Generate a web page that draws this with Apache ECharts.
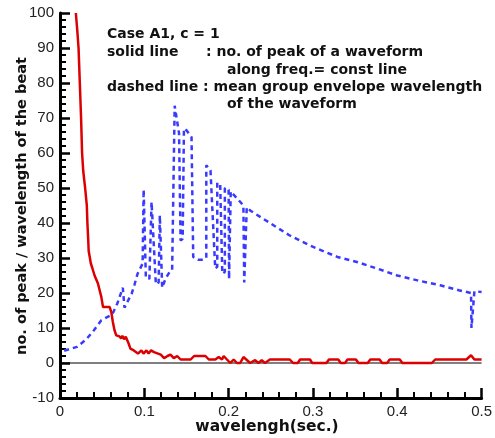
<!DOCTYPE html>
<html><head><meta charset="utf-8">
<script src="https://cdn.jsdelivr.net/npm/echarts@6/dist/echarts.min.js"></script>
<style>html,body{margin:0;padding:0;background:#fff}#c{width:495px;height:438px}</style>
</head><body><div id="c"></div>
<script>
// x ticks / y ticks
var xTicks = [0, 0.1, 0.2, 0.3, 0.4, 0.5];
var yTicks = [-10, 0, 10, 20, 30, 40, 50, 60, 70, 80, 90, 100];

// solid line: no. of peak of a waveform along freq.=const line  [wavelength, value]
var solidX = [0.0188,0.0205,0.022,0.0235,0.025,0.0262,0.0275,0.0298,0.0318,0.0325,0.0335,0.034,0.0355,0.0365,0.038,0.0385,0.041,0.045,0.049,0.051,0.0588,0.0608,0.0627,0.0647,0.0667,0.0706,0.0725,0.074,0.076,0.078,0.08,0.0815,0.0835,0.0875,0.0925,0.0965,0.099,0.1025,0.105,0.108,0.1115,0.1135,0.1195,0.1235,0.1275,0.131,0.135,0.139,0.143,0.155,0.159,0.1725,0.1765,0.1843,0.1882,0.1922,0.1941,0.198,0.202,0.206,0.2098,0.2137,0.2176,0.2255,0.2314,0.2353,0.2392,0.2431,0.249,0.2725,0.2765,0.282,0.2847,0.2965,0.299,0.316,0.319,0.330,0.333,0.338,0.341,0.351,0.354,0.365,0.368,0.379,0.382,0.388,0.391,0.403,0.406,0.441,0.445,0.482,0.4875,0.4915,0.5];
var solidY = [100,95,90,80,70,60,55,50,45,40,35,32,30,28.5,28.5,27,25,22.7,18.9,16,16,14.6,11.7,9.3,7.9,7.6,7,7.8,6.8,7.5,7,5.5,4.1,3.6,2.7,3.6,2.7,3.6,2.7,3.6,3.1,3.1,2.4,1.4,2,2.4,1.4,2,1,1,2,2,1,1,1.7,1,2,1,0,1,0,0,1.7,0,0.8,0,0.8,0,1,1,0,0,1,1,0,0,1,1,0,0,1,1,0,0,1,1,0,0,1,1,0,0,1,1,2.2,1,1];

// dashed line: mean group envelope wavelength of the waveform
var dashedX = [0.005,0.02,0.031,0.04,0.049,0.062,0.068,0.0745,0.0765,0.08,0.085,0.0885,0.092,0.098,0.0992,0.1018,0.106,0.1086,0.1137,0.117,0.1184,0.1212,0.125,0.13,0.133,0.136,0.1412,0.143,0.1455,0.147,0.150,0.156,0.158,0.1635,0.168,0.1735,0.1735,0.1785,0.1841,0.1865,0.1865,0.19,0.1925,0.1955,0.1955,0.2,0.2005,0.2025,0.2025,0.212,0.2175,0.2185,0.2205,0.2215,0.226,0.247,0.272,0.296,0.31,0.329,0.353,0.376,0.4,0.424,0.451,0.473,0.4875,0.488,0.4915,0.5];
var dashedY = [3.5,4.6,6.7,9.3,12.2,13.9,17,21.5,15.8,17.5,19.8,22.5,25.5,28.4,49.6,24.5,24,46,22.5,23,42.2,21.5,24,26,26.5,73.5,65.6,35,35.5,67,66.5,64.5,30.3,29.5,29.5,30,56.5,55,27,27.5,51.5,51,25.5,26,50,49.5,24,24.5,49,46.5,45,23,23.5,44.5,43.5,40.3,36.5,33.6,32.2,30.3,28.8,27,25,23.6,22.2,20.8,20,10,20.5,20.3];

var zeroX = [0, 0.5];
var zeroY = [0, 0];

function pairs(xs, ys){ return xs.map(function(x,i){return [x, ys[i]];}); }

var FONT = '"Liberation Sans", Arial, sans-serif';
var BFONT = '"DejaVu Sans", Verdana, sans-serif';
var chart = echarts.init(document.getElementById('c'), null, {renderer:'canvas'});
var tickLabelStyle = {color:'#222', fontSize:15, fontFamily:FONT};
var annot = [
  {x:107, y:34, t:'Case A1, c = 1'},
  {x:107, y:52, t:'solid line'},
  {x:206, y:52, t:': no. of peak of a waveform'},
  {x:227, y:70, t:'along freq.= const line'},
  {x:107, y:87, t:'dashed line : mean group envelope wavelength'},
  {x:227, y:104, t:'of the waveform'}
];
var graphics = annot.map(function(a){
  return {type:'text', x:a.x, y:a.y, z:100,
    style:{text:a.t, font:'bold 14px ' + BFONT, fill:'#111', textAlign:'left', textVerticalAlign:'middle'}};
});
graphics.push({type:'text', x:267, y:427, z:100,
  style:{text:'wavelengh(sec.)', font:'bold 15.5px ' + BFONT, fill:'#111', textAlign:'center', textVerticalAlign:'middle'}});
graphics.push({type:'text', x:22, y:206, rotation:Math.PI/2, z:100,
  style:{text:'no. of peak / wavelength of the beat', font:'bold 14.5px ' + BFONT, fill:'#111', textAlign:'center', textVerticalAlign:'middle'}});

chart.setOption({
  animation:false,
  backgroundColor:'#fff',
  grid:{left:60, right:10, top:13, bottom:40, containLabel:false},
  xAxis:{type:'value', min:xTicks[0], max:xTicks[xTicks.length-1], interval:0.1,
    axisLine:{show:true, onZero:false, lineStyle:{color:'#000', width:3}},
    axisTick:{show:true, inside:true, length:10, lineStyle:{color:'#000', width:2.5}},
    minorTick:{show:true, splitNumber:5, length:6, lineStyle:{color:'#000', width:2}},
    splitLine:{show:false},
    axisLabel:Object.assign({margin:6, formatter:function(v){return String(Math.round(v*10)/10);}}, tickLabelStyle)},
  yAxis:{type:'value', min:yTicks[0], max:yTicks[yTicks.length-1], interval:10,
    axisLine:{show:true, onZero:false, lineStyle:{color:'#000', width:3}},
    axisTick:{show:true, inside:true, length:10, lineStyle:{color:'#000', width:2.5}},
    minorTick:{show:true, splitNumber:5, length:6, lineStyle:{color:'#000', width:2}},
    splitLine:{show:false},
    axisLabel:Object.assign({margin:6}, tickLabelStyle)},
  graphic:graphics,
  series:[
    {type:'line', data:pairs(zeroX, zeroY), showSymbol:false, symbol:'none', lineStyle:{color:'#000', width:1}, z:1, silent:true},
    {type:'line', data:pairs(dashedX, dashedY), showSymbol:false, symbol:'none', clip:true,
      lineStyle:{color:'#3a3aff', width:2.5, type:[5,4]}, z:3},
    {type:'line', data:pairs(solidX, solidY), showSymbol:false, symbol:'none', clip:true,
      lineStyle:{color:'#dd0000', width:2.5}, z:4}
  ]
});
</script></body></html>
